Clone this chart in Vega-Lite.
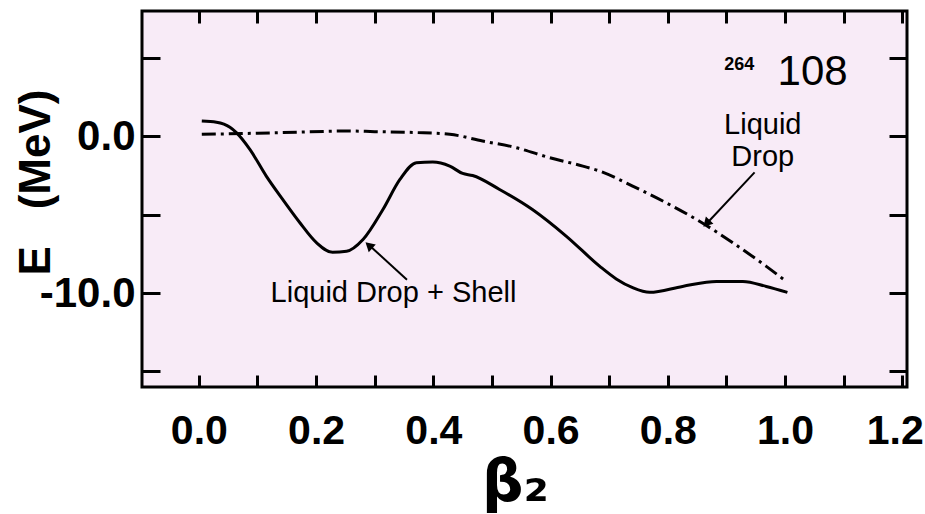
{
  "$schema": "https://vega.github.io/schema/vega-lite/v6.json",
  "width": 765,
  "height": 376,
  "autosize": {"type": "none"},
  "padding": {"left": 142, "top": 11, "right": 18, "bottom": 127},
  "background": "white",
  "view": {"fill": "#f8ebf7", "stroke": "black", "strokeWidth": 3},
  "config": {
    "axis": {"grid": false, "domain": false, "tickColor": "black", "tickWidth": 3, "labelColor": "black", "titleColor": "black"}
  },
  "datasets": {
    "shell": [
      {"b": 0.005, "E": 0.98}, {"b": 0.030, "E": 0.90}, {"b": 0.053, "E": 0.58}, {"b": 0.064, "E": 0.24},
      {"b": 0.087, "E": -0.83}, {"b": 0.115, "E": -2.54}, {"b": 0.143, "E": -4.03}, {"b": 0.172, "E": -5.50},
      {"b": 0.201, "E": -6.80}, {"b": 0.228, "E": -7.40}, {"b": 0.252, "E": -7.34}, {"b": 0.280, "E": -6.59},
      {"b": 0.314, "E": -4.67}, {"b": 0.343, "E": -2.75}, {"b": 0.371, "E": -1.68}, {"b": 0.399, "E": -1.64},
      {"b": 0.428, "E": -1.90}, {"b": 0.450, "E": -2.37}, {"b": 0.467, "E": -2.50}, {"b": 0.513, "E": -3.39},
      {"b": 0.569, "E": -4.67}, {"b": 0.627, "E": -6.38}, {"b": 0.684, "E": -8.30}, {"b": 0.712, "E": -9.10},
      {"b": 0.740, "E": -9.66}, {"b": 0.769, "E": -9.96}, {"b": 0.825, "E": -9.58}, {"b": 0.883, "E": -9.26},
      {"b": 0.928, "E": -9.26}, {"b": 0.968, "E": -9.58}, {"b": 1.004, "E": -9.96}
    ],
    "drop": [
      {"b": 0.005, "E": 0.13}, {"b": 0.10, "E": 0.20}, {"b": 0.143, "E": 0.24}, {"b": 0.257, "E": 0.34},
      {"b": 0.30, "E": 0.30}, {"b": 0.371, "E": 0.24}, {"b": 0.428, "E": 0.13}, {"b": 0.484, "E": -0.30},
      {"b": 0.541, "E": -0.72}, {"b": 0.598, "E": -1.36}, {"b": 0.655, "E": -1.90}, {"b": 0.684, "E": -2.22},
      {"b": 0.740, "E": -3.18}, {"b": 0.797, "E": -4.24}, {"b": 0.854, "E": -5.42}, {"b": 0.911, "E": -6.80},
      {"b": 0.968, "E": -8.30}, {"b": 1.002, "E": -9.26}
    ],
    "arrows": [
      {"b": 0.948, "E": -2.30, "b2": 0.868, "E2": -5.50},
      {"b": 0.355, "E": -9.15, "b2": 0.292, "E2": -7.00}
    ],
    "heads": [
      {"b": 0.866, "E": -5.56, "a": 224},
      {"b": 0.290, "E": -6.96, "a": 312}
    ],
    "labels": [
      {"b": 0.332, "E": -9.98, "t": "Liquid Drop + Shell"},
      {"b": 0.962, "E": 0.70, "t": "Liquid"},
      {"b": 0.962, "E": -1.34, "t": "Drop"}
    ],
    "nucleus": [{"b": 1.047, "E": 4.13, "t": "108"}],
    "mass": [{"b": 0.922, "E": 4.54, "t": "264"}]
  },
  "resolve": {"axis": {"x": "independent", "y": "independent"}},
  "layer": [
    {
      "data": {"name": "shell"},
      "mark": {"type": "line", "color": "black", "strokeWidth": 3, "interpolate": "monotone"},
      "encoding": {
        "x": {
          "field": "b", "type": "quantitative", "scale": {"domain": [-0.097, 1.208], "nice": false, "zero": false},
          "axis": {
            "orient": "bottom", "values": [0, 0.1, 0.2, 0.3, 0.4, 0.5, 0.6, 0.7, 0.8, 0.9, 1.0, 1.1, 1.2],
            "tickSize": -12,
            "labelExpr": "round(datum.value*10) % 2 == 0 ? format(datum.value, '.1f') : ''",
            "labelFont": "Liberation Sans, sans-serif", "labelFontSize": 41, "labelFontWeight": "bold",
            "labelPadding": 36, "labelBaseline": "top", "labelFlush": false,
            "labelAlign": {"condition": {"test": "datum.value > 1.15", "value": "right"}, "value": "center"},
            "labelOffset": {"condition": {"test": "datum.value > 1.15", "value": 21}, "value": 0},
            "title": "β₂", "titleFont": "DejaVu Sans, sans-serif", "titleFontSize": 58, "titleFontWeight": "bold",
            "titleX": 373, "titleY": 67, "titleAlign": "center", "titleBaseline": "top", "titleAnchor": null
          }
        },
        "y": {
          "field": "E", "type": "quantitative", "scale": {"domain": [-16, 8], "nice": false, "zero": false},
          "axis": {
            "orient": "left", "values": [5, 0, -5, -10, -15], "tickSize": -18,
            "labelExpr": "datum.value == 0 ? '0.0' : (datum.value == -10 ? '-10.0' : '')",
            "labelFont": "Liberation Sans, sans-serif", "labelFontSize": 42, "labelFontWeight": "bold",
            "labelPadding": 25, "labelBaseline": "middle", "labelFlush": false,
            "title": "E\u00a0\u00a0\u00a0(MeV)", "titleFont": "Liberation Sans, sans-serif", "titleFontSize": 44, "titleFontWeight": "bold",
            "titleX": -106, "titleY": 171, "titleAngle": 270, "titleAlign": "center", "titleBaseline": "middle", "titleAnchor": null
          }
        }
      }
    },
    {
      "data": {"name": "drop"},
      "mark": {"type": "line", "color": "black", "strokeWidth": 3, "strokeDash": [14, 5, 3, 5], "interpolate": "monotone"},
      "encoding": {
        "x": {"field": "b", "type": "quantitative", "axis": null},
        "y": {"field": "E", "type": "quantitative", "axis": null}
      }
    },
    {
      "data": {"name": "arrows"},
      "mark": {"type": "rule", "color": "black", "strokeWidth": 2},
      "encoding": {
        "x": {"field": "b", "type": "quantitative", "axis": null},
        "y": {"field": "E", "type": "quantitative", "axis": null},
        "x2": {"field": "b2"},
        "y2": {"field": "E2"}
      }
    },
    {
      "data": {"name": "heads"},
      "mark": {"type": "point", "shape": "triangle-up", "filled": true, "color": "black", "size": 110, "opacity": 1},
      "encoding": {
        "x": {"field": "b", "type": "quantitative", "axis": null},
        "y": {"field": "E", "type": "quantitative", "axis": null},
        "angle": {"field": "a", "type": "quantitative", "scale": null}
      }
    },
    {
      "data": {"name": "labels"},
      "mark": {"type": "text", "font": "Liberation Sans, sans-serif", "fontSize": 29, "color": "black", "align": "center", "baseline": "middle"},
      "encoding": {
        "x": {"field": "b", "type": "quantitative", "axis": null},
        "y": {"field": "E", "type": "quantitative", "axis": null},
        "text": {"field": "t"}
      }
    },
    {
      "data": {"name": "nucleus"},
      "mark": {"type": "text", "font": "Liberation Sans, sans-serif", "fontSize": 42, "color": "black", "align": "center", "baseline": "middle"},
      "encoding": {
        "x": {"field": "b", "type": "quantitative", "axis": null},
        "y": {"field": "E", "type": "quantitative", "axis": null},
        "text": {"field": "t"}
      }
    },
    {
      "data": {"name": "mass"},
      "mark": {"type": "text", "font": "Liberation Sans, sans-serif", "fontSize": 18, "fontWeight": "bold", "color": "black", "align": "center", "baseline": "middle"},
      "encoding": {
        "x": {"field": "b", "type": "quantitative", "axis": null},
        "y": {"field": "E", "type": "quantitative", "axis": null},
        "text": {"field": "t"}
      }
    },
    {
      "data": {"name": "shell"},
      "mark": {"type": "line", "opacity": 0},
      "encoding": {
        "x": {
          "field": "b", "type": "quantitative",
          "axis": {"orient": "top", "values": [0, 0.1, 0.2, 0.3, 0.4, 0.5, 0.6, 0.7, 0.8, 0.9, 1.0, 1.1, 1.2], "tickSize": -12, "labels": false, "title": null}
        },
        "y": {
          "field": "E", "type": "quantitative",
          "axis": {"orient": "right", "values": [5, 0, -5, -10, -15], "tickSize": -18, "labels": false, "title": null}
        }
      }
    }
  ]
}
